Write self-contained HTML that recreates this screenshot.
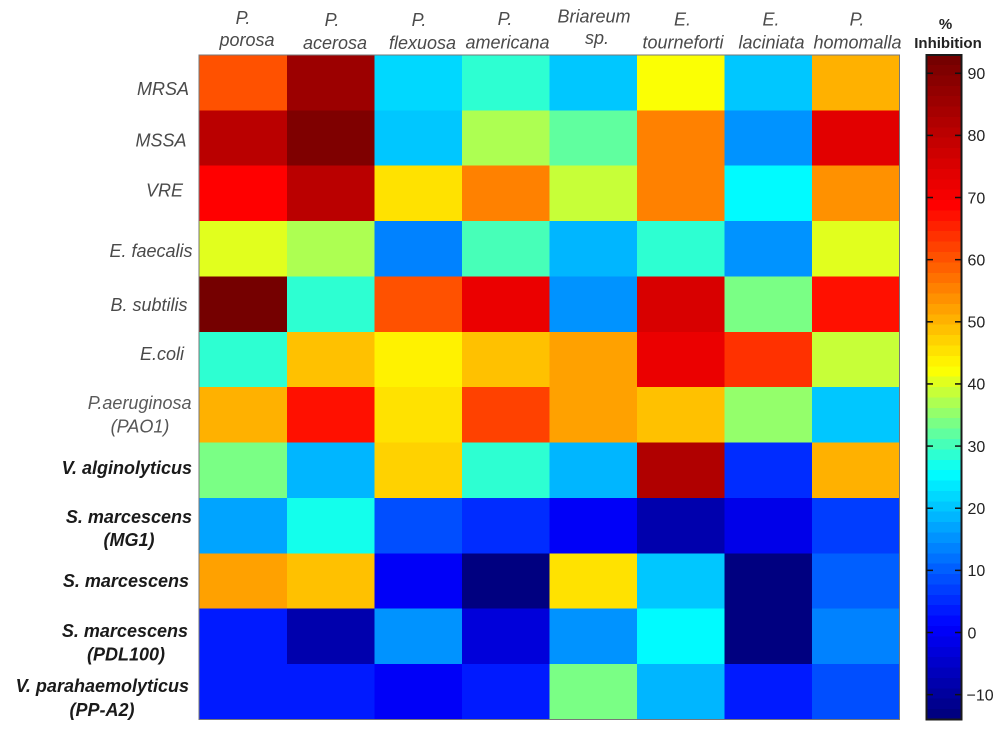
<!DOCTYPE html>
<html lang="en">
<head>
<meta charset="utf-8">
<title>Inhibition heatmap</title>
<style>
html,body{margin:0;padding:0;background:#fff;width:1000px;height:732px;overflow:hidden}
svg{display:block}
text{font-family:"Liberation Sans",Arial,sans-serif}
.top{font-size:18px;font-style:italic;fill:#4a4a4a;text-anchor:middle}
.left{font-size:18px;font-style:italic;fill:#4a4a4a;text-anchor:end}
.leftc{font-size:18px;font-style:italic;fill:#555;text-anchor:middle}
.bold{font-size:18px;font-style:italic;font-weight:bold;fill:#1a1a1a;text-anchor:end}
.boldc{font-size:18px;font-style:italic;font-weight:bold;fill:#1a1a1a;text-anchor:middle}
.cb{font-size:16px;fill:#222}
.cbt{font-size:15px;font-weight:bold;fill:#222;text-anchor:middle}
</style>
</head>
<body>
<svg id="chart" width="1000" height="732" viewBox="0 0 1000 732" xmlns="http://www.w3.org/2000/svg">
  <g id="cells"></g>
  <rect x="199" y="55" width="700.5" height="664.5" fill="none" stroke="#777" stroke-width="1"/>

  <g>
    <g><text class="top" x="243" y="24">P.</text><text class="top" x="247" y="46">porosa</text></g>
    <g><text class="top" x="332" y="26">P.</text><text class="top" x="335" y="49">acerosa</text></g>
    <g><text class="top" x="419" y="26">P.</text><text class="top" x="422.5" y="49">flexuosa</text></g>
    <g><text class="top" x="505" y="25">P.</text><text class="top" x="507.5" y="48.5">americana</text></g>
    <g><text class="top" x="594" y="22.5">Briareum</text><text class="top" x="597" y="44">sp.</text></g>
    <g><text class="top" x="682.5" y="25.5">E.</text><text class="top" x="683" y="48.5">tourneforti</text></g>
    <g><text class="top" x="771" y="25.5">E.</text><text class="top" x="771.5" y="48.5">laciniata</text></g>
    <g><text class="top" x="857" y="25.5">P.</text><text class="top" x="857.5" y="48.5">homomalla</text></g>
  </g>

  <g>
    <text class="left" x="189" y="95">MRSA</text>
    <text class="left" x="186.5" y="146.5">MSSA</text>
    <text class="left" x="183" y="196.5">VRE</text>
    <text class="left" x="192.5" y="257">E. faecalis</text>
    <text class="left" x="187.5" y="311">B. subtilis</text>
    <text class="left" x="184" y="360">E.coli</text>
    <g><text class="left" style="fill:#5a5a5a" x="191.5" y="409">P.aeruginosa</text><text class="leftc" x="140" y="432.5">(PAO1)</text></g>
    <text class="bold" x="192" y="474">V. alginolyticus</text>
    <g><text class="bold" x="192" y="523">S. marcescens</text><text class="boldc" x="129" y="546">(MG1)</text></g>
    <text class="bold" x="189" y="587">S. marcescens</text>
    <g><text class="bold" x="188" y="637">S. marcescens</text><text class="boldc" x="126" y="660.5">(PDL100)</text></g>
    <g><text class="bold" x="189" y="692">V. parahaemolyticus</text><text class="boldc" x="102" y="716">(PP-A2)</text></g>
  </g>

  <g id="colorbar"></g>
  <g>
    <text class="cbt" x="945.5" y="29">%</text>
    <text class="cbt" x="948" y="48">Inhibition</text>
  </g>
</svg>
<script>
const columnNames = ["P. porosa","P. acerosa","P. flexuosa","P. americana","Briareum sp.","E. tourneforti","E. laciniata","P. homomalla"];
const rowNames = ["MRSA","MSSA","VRE","E. faecalis","B. subtilis","E.coli","P.aeruginosa (PAO1)","V. alginolyticus","S. marcescens (MG1)","S. marcescens","S. marcescens (PDL100)","V. parahaemolyticus (PP-A2)"];
const rowMRSA = [60,85,22.3,29,20.8,42.3,20.8,51];
const rowMSSA = [80.2,91,20.8,36.8,31.2,55.5,15.4,74];
const rowVRE = [69,80,45.8,55.5,38.2,55.5,25.7,54];
const rowFaecalis = [40.7,36.8,13.4,30,19,28,15.4,40];
const rowSubtilis = [92,29,60,72,16,75,34,66.5];
const rowColi = [28,48.5,44,49.5,52,72,63.5,38];
const rowPAO1 = [51,66.5,46,62,52,49.5,35,21];
const rowAlginolyticus = [34,19,47.5,29,19,82,6,51];
const rowMG1 = [17.5,27.5,9,4.5,1,-8,-1.5,7.5];
const rowMarcescens = [52,49.5,0.5,-13,46,21,-13,10.5];
const rowPDL100 = [4,-8,15,-3,16,26,-13.5,14];
const rowPPA2 = [4,3,1,3,34,18,4,9];
const heatValues = [rowMRSA,rowMSSA,rowVRE,rowFaecalis,rowSubtilis,rowColi,rowPAO1,rowAlginolyticus,rowMG1,rowMarcescens,rowPDL100,rowPPA2];
const colorbarTicks = [90,80,70,60,50,40,30,20,10,0,-10];

const SVGNS = "http://www.w3.org/2000/svg";
const domainMin = -14, domainMax = 93, bandCount = 64;
const stopValues = [-14,1,25.7,42.3,68.8,93];
const stopColors = [[0,0,120],[0,0,255],[0,255,255],[255,255,0],[255,0,0],[112,0,0]];

const plotLeft = 199.3, plotTop = 55, cellW = 87.5, cellH = 55.37;
function xScale(i){ return plotLeft + i * cellW; }
function yScale(i){ return plotTop + i * cellH; }
function cbY(v){ return 632.5 - v * 6.214; }

function rampColor(v){
  let k = 0;
  while (k < stopValues.length - 2 && v > stopValues[k + 1]) k++;
  let t = (v - stopValues[k]) / (stopValues[k + 1] - stopValues[k]);
  t = Math.max(0, Math.min(1, t));
  const a = stopColors[k], b = stopColors[k + 1];
  return "rgb(" + a.map(function(c, j){ return Math.round(c + (b[j] - c) * t); }).join(",") + ")";
}
const bandStep = (domainMax - domainMin) / bandCount;
function bandIndex(v){
  return Math.max(0, Math.min(bandCount - 1, Math.floor((v - domainMin) / bandStep)));
}
function bandColor(i){ return rampColor(domainMin + (i + 0.5) * bandStep); }
function valueColor(v){ return bandColor(bandIndex(v)); }

const cellsGroup = document.getElementById("cells");
heatValues.forEach(function(row, r){
  row.forEach(function(v, c){
    const el = document.createElementNS(SVGNS, "rect");
    el.setAttribute("x", xScale(c));
    el.setAttribute("y", yScale(r));
    el.setAttribute("width", cellW);
    el.setAttribute("height", cellH);
    el.setAttribute("fill", valueColor(v));
    el.setAttribute("shape-rendering", "crispEdges");
    
    
    cellsGroup.appendChild(el);
  });
});

const cbGroup = document.getElementById("colorbar");
const cbLeft = 926.5, cbRight = 961.5;
for (let i = 0; i < bandCount; i++) {
  const band = document.createElementNS(SVGNS, "rect");
  const yTop = cbY(domainMin + (i + 1) * bandStep);
  const yBot = cbY(domainMin + i * bandStep);
  band.setAttribute("x", cbLeft);
  band.setAttribute("y", yTop);
  band.setAttribute("width", cbRight - cbLeft);
  band.setAttribute("height", yBot - yTop);
  band.setAttribute("fill", bandColor(i));
  band.setAttribute("shape-rendering", "crispEdges");
  
  
  cbGroup.appendChild(band);
}
const cbFrame = document.createElementNS(SVGNS, "rect");
cbFrame.setAttribute("x", cbLeft);
cbFrame.setAttribute("y", 55);
cbFrame.setAttribute("width", cbRight - cbLeft);
cbFrame.setAttribute("height", 664.5);
cbFrame.setAttribute("fill", "none");
cbFrame.setAttribute("stroke", "#1a1a1a");
cbFrame.setAttribute("stroke-width", "2");


cbGroup.appendChild(cbFrame);

colorbarTicks.forEach(function(v){
  const y = cbY(v);
  [[cbLeft, cbLeft + 6.5], [cbRight - 6.5, cbRight]].forEach(function(seg){
    const tick = document.createElementNS(SVGNS, "line");
    tick.setAttribute("x1", seg[0]);
    tick.setAttribute("x2", seg[1]);
    tick.setAttribute("y1", y);
    tick.setAttribute("y2", y);
    tick.setAttribute("stroke", "#111");
    tick.setAttribute("stroke-width", "1.5");
    
    
    cbGroup.appendChild(tick);
  });
  const label = document.createElementNS(SVGNS, "text");
  label.setAttribute("class", "cb");
  label.setAttribute("x", v < 0 ? 966.5 : 967.5);
  label.setAttribute("y", y + 5.8);
  label.textContent = v < 0 ? "\u2212" + Math.abs(v) : String(v);
  
  
  cbGroup.appendChild(label);
});
</script>
</body>
</html>
